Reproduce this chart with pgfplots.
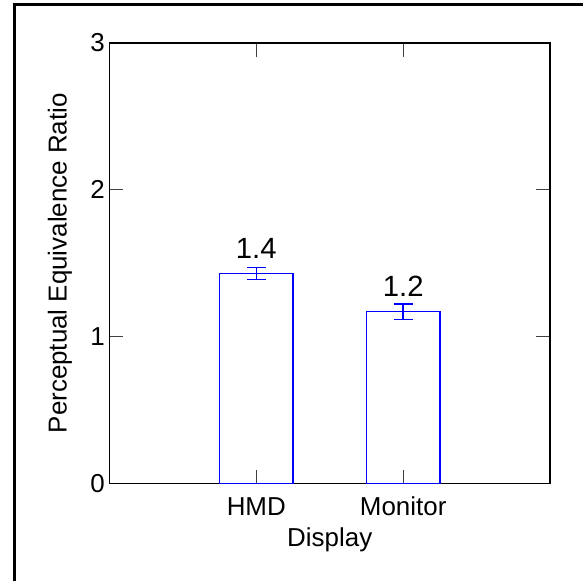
\documentclass[border=0pt]{standalone}
\usepackage{pgfplots}
\pgfplotsset{compat=1.18}
\usepackage{fontspec}
\setmainfont{Liberation Sans}
\definecolor{barblue}{RGB}{0,0,255}
\begin{document}
\def\u{0.75pt}
\begin{tikzpicture}[x=\u,y=\u]
\useasboundingbox (0,0) rectangle (581,583);
\draw[line width=2.25pt] (10.5,0) -- (10.5,578.5) -- (581,578.5);
\begin{axis}[
  at={(106*\u,98*\u)}, anchor=south west,
  scale only axis, width=442*\u, height=442*\u,
  ybar, bar width=0.5,
  xmin=0, xmax=3, ymin=0, ymax=3,
  xtick={1,2}, xticklabels={HMD,Monitor},
  ytick={0,1,2,3},
  tick align=inside, xtick pos=both, ytick pos=both,
  major tick length=14*\u,
  axis line style={line width=1pt, black},
  tick style={line width=0.9pt, black!75},
  /pgf/number format/assume math mode=true,
  ticklabel style={font=\fontsize{19.5}{22}\selectfont},
  xticklabel style={anchor=base, yshift=-31.7*\u},
  xlabel={Display}, ylabel={Perceptual Equivalence Ratio},
  label style={font=\fontsize{19.5}{22}\selectfont},
  xlabel style={at={(axis description cs:0.5,-0.1425)}, anchor=base},
  ylabel style={at={(axis description cs:-0.0973,0.5)}, anchor=base},
  nodes near coords, point meta=explicit symbolic,
  every node near coord/.append style={anchor=base, yshift=15*\u, font=\fontsize{22}{24}\selectfont, text=black},
]
\addplot[draw=barblue, fill=none, line width=1.1pt,
  error bars/.cd, y dir=both, y explicit,
  error bar style={draw=barblue, color=barblue, line width=1.1pt},
  error mark options={rotate=90, draw=barblue, color=barblue, mark size=7.1pt, line width=1.1pt}]
  table[x=x, y=y, y error=e, meta=lab] {
x y e lab
1 1.43 0.040 1.4
2 1.17 0.053 1.2
};
\end{axis}
\end{tikzpicture}
\end{document}
